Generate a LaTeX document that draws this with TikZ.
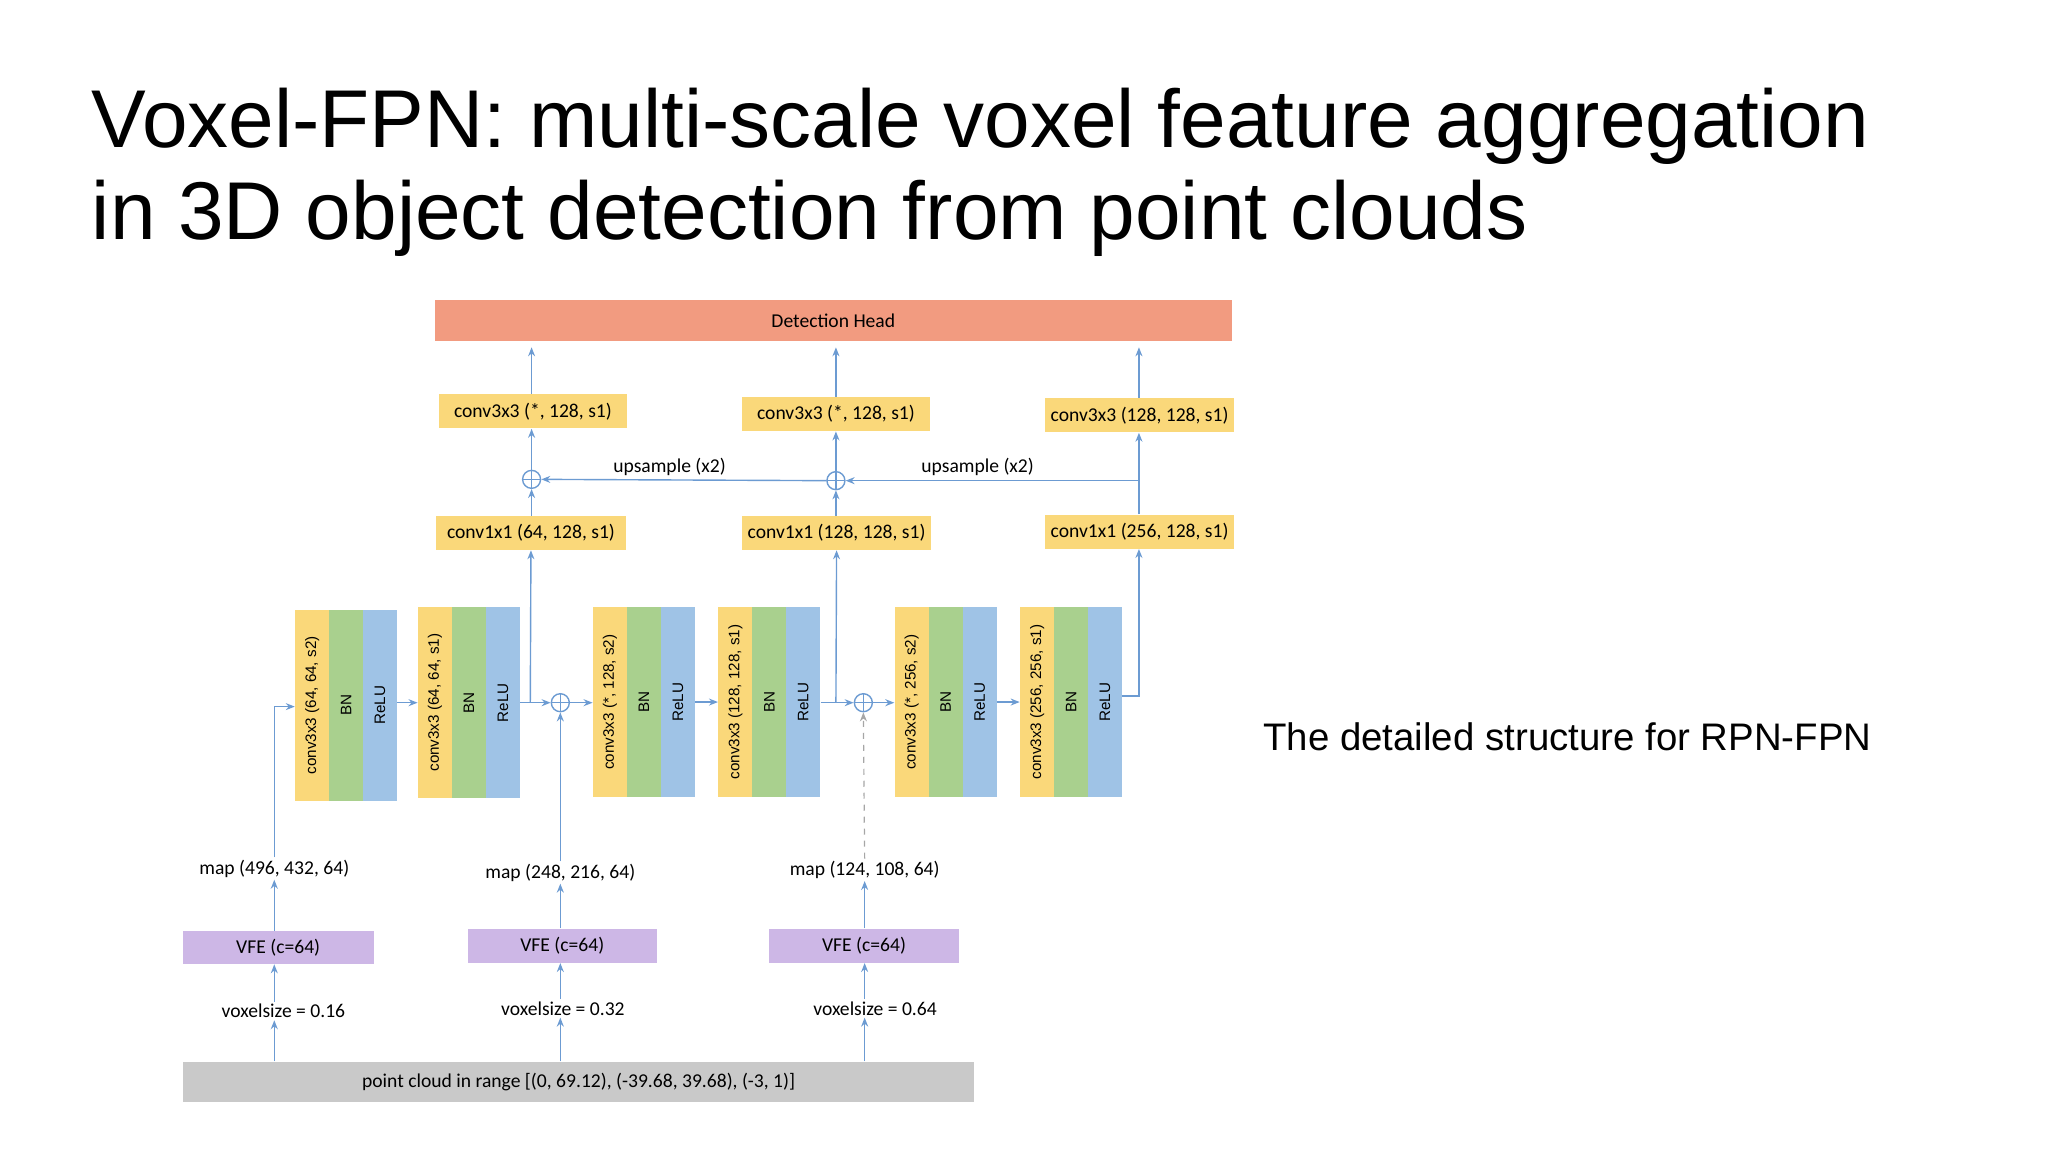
\documentclass[tikz,border=0pt]{standalone}
\usepackage{fontspec}
\setmainfont{Liberation Sans}
\newfontfamily\boxfont{Carlito}
\usetikzlibrary{arrows.meta}
\definecolor{cy}{HTML}{FAD87A}
\definecolor{cg}{HTML}{A9D08E}
\definecolor{cb}{HTML}{9FC3E6}
\definecolor{co}{HTML}{F29B80}
\definecolor{cp}{HTML}{CDB7E6}
\definecolor{cgr}{HTML}{C9C9C9}
\definecolor{ln}{HTML}{6C9BD2}
\begin{document}
\begin{tikzpicture}[x=0.6531pt,y=-0.6531pt,
  sz/.style 2 args={minimum width=#1*0.6531pt, minimum height=#2*0.6531pt, inner sep=0pt},
  box/.style={font=\boxfont\fontsize{9.8}{11}\selectfont},
  strip/.style={sz={146}{26}, rotate=90, font=\fontsize{7.6}{9}\selectfont, anchor=center},
  lbl/.style={font=\boxfont\fontsize{9.8}{11}\selectfont, inner sep=1pt, fill=white},
  arr/.style={draw=ln, line width=0.7pt, -{Stealth[length=4.5pt,width=3.5pt]}},
  oplus/.style={circle, draw=ln, line width=0.7pt, minimum size=9pt, inner sep=0pt,
    path picture={\draw[ln,line width=0.7pt] (path picture bounding box.north)--(path picture bounding box.south)
      (path picture bounding box.west)--(path picture bounding box.east);}}]
\useasboundingbox (0,0) rectangle (1568,882);
% title
\node[anchor=west, font=\fontsize{41}{46}\selectfont, inner sep=0pt] (t1) at (70,97) {Voxel-FPN: multi-scale voxel feature aggregation};
\node[anchor=west, font=\fontsize{41}{46}\selectfont, inner sep=0pt] (t2) at (70,167) {in 3D object detection from point clouds};
\node[anchor=west, font=\fontsize{19.2}{21}\selectfont, inner sep=0pt] (rt) at (967,564) {The detailed structure for RPN-FPN};
% detection head
\node[box, fill=co, sz={610}{31}] (det) at (638,245.5) {Detection Head};
% conv3x3 top
\node[box, fill=cy, sz={144}{26}] (c3a) at (408,315) {conv3x3 (*, 128, s1)};
\node[box, fill=cy, sz={144}{26}] (c3b) at (640,317) {conv3x3 (*, 128, s1)};
\node[box, fill=cy, sz={145}{26}] (c3c) at (872.5,318) {conv3x3 (128, 128, s1)};
% conv1x1
\node[box, fill=cy, sz={145}{26}] (c1a) at (406.5,408) {conv1x1 (64, 128, s1)};
\node[box, fill=cy, sz={145}{26}] (c1b) at (640.5,408) {conv1x1 (128, 128, s1)};
\node[box, fill=cy, sz={145}{26}] (c1c) at (872.5,407) {conv1x1 (256, 128, s1)};
% plus on top
\node[oplus] (q1) at (407,367) {};
\node[oplus] (q2) at (640,368) {};
\coordinate (u3) at (872,368);
% blocks
\foreach \n/\L/\Y/\t in {1/226/540/{conv3x3 (64, 64, s2)},2/320/538/{conv3x3 (64, 64, s1)},3/454/537.5/{conv3x3 (*, 128, s2)},4/550/537.5/{conv3x3 (128, 128, s1)},5/685/537.5/{conv3x3 (*, 256, s2)},6/781/537.5/{conv3x3 (256, 256, s1)}}{
  \node[strip, fill=cy] (b\n c) at (\L+13,\Y) {\t};
  \node[strip, fill=cg] (b\n n) at (\L+39,\Y) {BN};
  \node[strip, fill=cb] (b\n r) at (\L+65,\Y) {ReLU};
}
\node[oplus] (p1) at (429,538) {};
\node[oplus] (p2) at (661,538) {};
\coordinate (e1) at (210,541);
\coordinate (j1) at (406,538);
\coordinate (j2) at (640,538);
\coordinate (j3) at (872,533);
% labels
\node[lbl] (m1) at (210,665) {map (496, 432, 64)};
\node[lbl] (m2) at (429,668) {map (248, 216, 64)};
\node[lbl] (m3) at (662,666) {map (124, 108, 64)};
\node[box, fill=cp, sz={146}{25}] (v1) at (213,725.5) {VFE (c=64)};
\node[box, fill=cp, sz={145}{26}] (v2) at (430.5,724) {VFE (c=64)};
\node[box, fill=cp, sz={145}{26}] (v3) at (661.5,724) {VFE (c=64)};
\node[lbl] (s1) at (217,774) {voxelsize = 0.16};
\node[lbl] (s2) at (431,772) {voxelsize = 0.32};
\node[lbl] (s3) at (670,772) {voxelsize = 0.64};
\node[box, fill=cgr, sz={606}{31}] (pc) at (443,828.5) {point cloud in range [(0, 69.12), (-39.68, 39.68), (-3, 1)]};
% bottom arrows
\draw[arr] (pc.north -| m1.south) -- (s1.south -| m1.south);
\draw[arr] (pc.north -| m2.south) -- (s2.south -| m2.south);
\draw[arr] (pc.north -| m3.south) -- (s3.south -| m3.south);
\draw[arr] (s1.north -| m1.south) -- (v1.south -| m1.south);
\draw[arr] (s2.north -| m2.south) -- (v2.south -| m2.south);
\draw[arr] (s3.north -| m3.south) -- (v3.south -| m3.south);
\draw[arr] (v1.north -| m1.south) -- (m1.south);
\draw[arr] (v2.north -| m2.south) -- (m2.south);
\draw[arr] (v3.north -| m3.south) -- (m3.south);
% block chain (rotated nodes: .south is the right side)
\draw[arr] (m1.north) -- (e1) -- (b1c.north |- e1);
\draw[arr] (b1r.south |- 0,538) -- (b2c.north |- 0,538);
\draw[arr] (b2r.south |- j1) -- (p1.west);
\draw[arr] (j1) -- (c1a.south);
\draw[arr] (p1.east) -- (b3c.north |- p1);
\draw[arr] (m2.north) -- (p1.south);
\draw[arr] (b3r.south |- 0,537.5) -- (b4c.north |- 0,537.5);
\draw[arr] (b4r.south |- j2) -- (p2.west);
\draw[arr] (j2) -- (c1b.south);
\draw[arr] (p2.east) -- (b5c.north |- p2);
\draw[-{Stealth[length=4.5pt,width=3.5pt]}, draw=gray!70, line width=0.6pt, dashed] (m3.north) -- (p2.south);
\draw[arr] (b5r.south |- 0,537.5) -- (b6c.north |- 0,537.5);
\draw[arr] (b6r.south |- j3) -- (j3) -- (c1c.south -| j3);
% FPN top
\draw[arr] (c1a.north -| q1) -- (q1.south);
\draw[arr] (c1b.north -| q2) -- (q2.south);
\draw[arr] (q1.north) -- (c3a.south -| q1);
\draw[arr] (q2.north) -- (c3b.south -| q2);
\draw[arr] (c1c.north -| u3) -- (c3c.south -| u3);
\draw[arr] (u3) -- node[lbl, fill=none, above, pos=0.55, inner sep=2pt]{upsample (x2)} (q2.east);
\draw[arr] (q2.west) -- node[lbl, fill=none, above, pos=0.55, inner sep=2pt]{upsample (x2)} (q1.east);
\draw[arr, shorten >=3pt] (c3a.north -| q1) -- (det.south -| q1);
\draw[arr, shorten >=3pt] (c3b.north -| q2) -- (det.south -| q2);
\draw[arr, shorten >=3pt] (c3c.north -| u3) -- (det.south -| u3);
\end{tikzpicture}
\end{document}
